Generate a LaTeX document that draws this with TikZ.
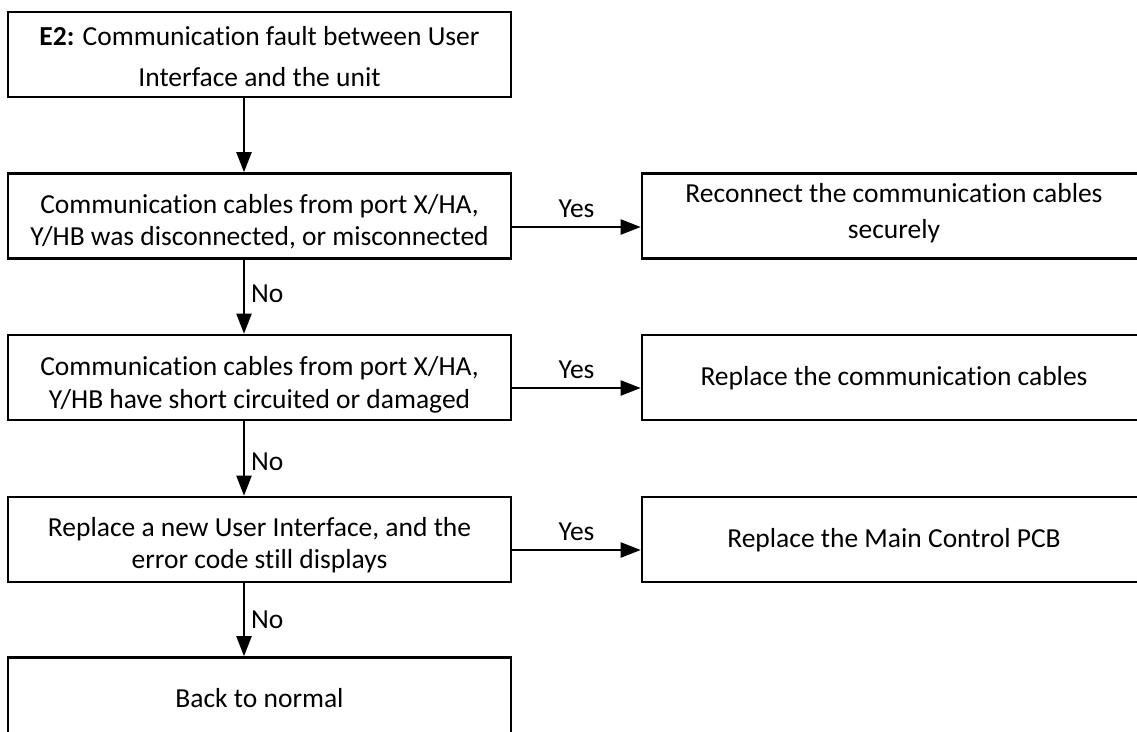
\documentclass[tikz,border=0pt]{standalone}
\usepackage{fontspec}
\setmainfont{Carlito}[Ligatures=NoCommon]
\usetikzlibrary{arrows.meta}
% #1 vertical shift, #2 line spacing, #3 lines
\newcommand{\boxlines}[3]{\raisebox{#1}[\height][\depth]{\fontsize{27.5}{#2}\selectfont\begin{tabular}{@{}c@{}}#3\end{tabular}}}
\begin{document}
\begin{tikzpicture}[x=1pt,y=-1pt,
  box/.style={draw=black, line width=2.6pt, fill=white, minimum width=503pt, minimum height=85pt, inner sep=0pt},
  rbox/.style={box, minimum width=504pt},
  arr/.style={line width=2.2pt, -{Triangle[length=20pt,width=15pt]}},
  lbl/.style={font=\fontsize{27.5}{30}\selectfont, inner sep=0pt}]
\useasboundingbox (0,0) rectangle (1137,731);
\clip (0,0) rectangle (1137,731);
\fill[white] (0,0) rectangle (1137,731);

\node[box] (b1) at (259.5,54.5) {\boxlines{-2.8pt}{41pt}{\textbf{E2:} Communication fault between User\\Interface and the unit}};
\node[box] (b2) at (259.5,216) {\boxlines{-6.6pt}{32pt}{Communication cables from port X/HA,\\Y/HB was disconnected, or misconnected}};
\node[box] (b3) at (259.5,377.5) {\boxlines{-7.4pt}{33pt}{Communication cables from port X/HA,\\Y/HB have short circuited or damaged}};
\node[box] (b4) at (259.5,539.5) {\boxlines{-6.1pt}{32pt}{Replace a new User Interface, and the\\error code still displays}};
\node[box] (b5) at (259.5,700) {\boxlines{-0.6pt}{32pt}{Back to normal}};

\node[rbox] (r1) at (894,216) {\boxlines{3.2pt}{36pt}{Reconnect the communication cables\\securely}};
\node[rbox] (r2) at (894,377.5) {\boxlines{-1.1pt}{32pt}{Replace the communication cables}};
\node[rbox] (r3) at (894,539.5) {\boxlines{-2pt}{32pt}{Replace the Main Control PCB}};

\coordinate (ax) at (244,0);
\coordinate (y1) at (0,227);
\coordinate (y2) at (0,388);
\coordinate (y3) at (0,550);

\draw[arr] (ax |- b1.south) -- (ax |- b2.north);
\draw[arr] (ax |- b2.south) -- node[lbl, anchor=west, xshift=6pt, yshift=3pt] (n1) {No} (ax |- b3.north);
\draw[arr] (ax |- b3.south) -- node[lbl, anchor=west, xshift=6pt, yshift=-3pt] (n2) {No} (ax |- b4.north);
\draw[arr] (ax |- b4.south) -- node[lbl, anchor=west, xshift=6pt] (n3) {No} (ax |- b5.north);

\draw[arr] (b2.east |- y1) -- node[lbl, anchor=base, yshift=10pt] (s1) {Yes} (r1.west |- y1);
\draw[arr] (b3.east |- y2) -- node[lbl, anchor=base, yshift=10pt] (s2) {Yes} (r2.west |- y2);
\draw[arr] (b4.east |- y3) -- node[lbl, anchor=base, yshift=10pt] (s3) {Yes} (r3.west |- y3);
\end{tikzpicture}
\end{document}
